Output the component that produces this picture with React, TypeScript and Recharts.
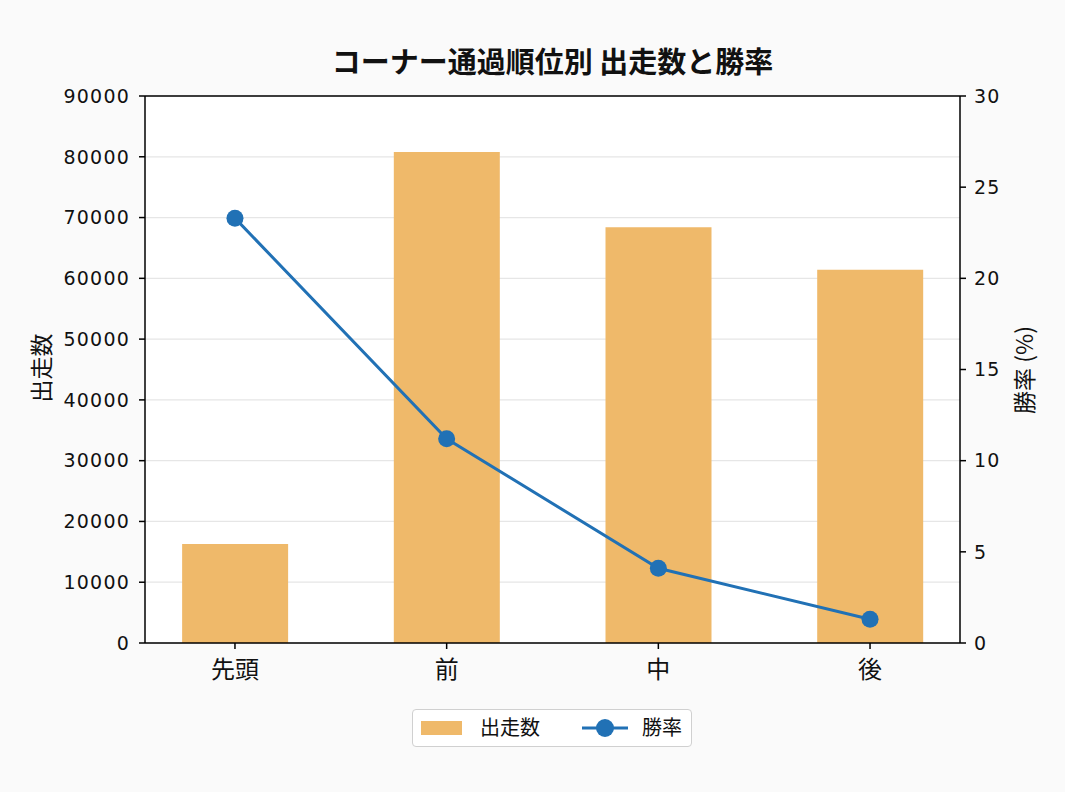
import React from 'react';
import {
  ComposedChart,
  Bar,
  Line,
  XAxis,
  YAxis,
  CartesianGrid,
  ReferenceLine
} from 'recharts';

const categories = ['先頭', '前', '中', '後'];
const runCounts = [16300, 80800, 68400, 61400];
const winRates = [23.3, 11.2, 4.1, 1.3];
const leftTicks = [0, 10000, 20000, 30000, 40000, 50000, 60000, 70000, 80000, 90000];
const rightTicks = [0, 5, 10, 15, 20, 25, 30];

const FONT = '"Noto Sans CJK JP", "Noto Sans", sans-serif';
const NUM_FONT = '"DejaVu Sans", sans-serif';
const barColor = '#efb96a';
const lineColor = '#2171b5';

const data = categories.map((name, i) => ({
  x: i,
  name,
  runs: runCounts[i],
  winRate: winRates[i]
}));

const numTick = { fontSize: 19, fill: '#111', fontFamily: NUM_FONT, letterSpacing: 1.2 };

const App: React.FC = () => {
  return (
    <div
      style={{
        position: 'absolute',
        left: 0,
        top: 0,
        width: 1065,
        height: 792,
        background: '#fafafa',
        fontFamily: FONT
      }}
    >
      <div
        style={{
          position: 'absolute',
          top: 40,
          left: 145,
          width: 815,
          lineHeight: '40px',
          textAlign: 'center',
          fontSize: 29,
          fontWeight: 700,
          color: '#111'
        }}
      >
        コーナー通過順位別 出走数と勝率
      </div>

      <ComposedChart
        width={1065}
        height={792}
        data={data}
        margin={{ top: 96, right: 45, bottom: 109, left: 85 }}
      >
        <CartesianGrid
          yAxisId="left"
          vertical={false}
          stroke="#e6e6e6"
          strokeWidth={1.2}
          fill="#ffffff"
        />
        <XAxis
          dataKey="x"
          type="number"
          domain={[-0.425, 3.425]}
          ticks={[0, 1, 2, 3]}
          tickFormatter={(v: number) => categories[v] ?? ''}
          height={40}
          tickSize={6}
          tick={{ fontSize: 24, fill: '#111', fontFamily: FONT }}
          tickMargin={12}
          axisLine={{ stroke: '#000', strokeWidth: 1.5 }}
          tickLine={{ stroke: '#000', strokeWidth: 1.5 }}
          allowDataOverflow
        />
        <YAxis
          yAxisId="left"
          domain={[0, 90000]}
          ticks={leftTicks}
          width={60}
          tickSize={6}
          tickMargin={9}
          tick={numTick}
          axisLine={{ stroke: '#000', strokeWidth: 1.5 }}
          tickLine={{ stroke: '#000', strokeWidth: 1.5 }}
        />
        <YAxis
          yAxisId="right"
          orientation="right"
          domain={[0, 30]}
          ticks={rightTicks}
          width={60}
          tickSize={6}
          tickMargin={8}
          tick={numTick}
          axisLine={{ stroke: '#000', strokeWidth: 1.5 }}
          tickLine={{ stroke: '#000', strokeWidth: 1.5 }}
        />
        <ReferenceLine yAxisId="left" y={90000} stroke="#000" strokeWidth={1.5} />
        <Bar
          yAxisId="left"
          dataKey="runs"
          fill={barColor}
          barSize={106}
          isAnimationActive={false}
        />
        <Line
          yAxisId="right"
          dataKey="winRate"
          stroke={lineColor}
          strokeWidth={3}
          dot={{ r: 8.5, fill: lineColor, stroke: lineColor, strokeWidth: 0 }}
          activeDot={false}
          isAnimationActive={false}
        />
      </ComposedChart>

      <div
        style={{
          position: 'absolute',
          left: 40,
          top: 368,
          transform: 'translate(-50%, -50%) rotate(-90deg)',
          fontSize: 23,
          color: '#111',
          whiteSpace: 'nowrap'
        }}
      >
        出走数
      </div>
      <div
        style={{
          position: 'absolute',
          left: 1023,
          top: 370,
          transform: 'translate(-50%, -50%) rotate(-90deg)',
          fontSize: 23,
          color: '#111',
          whiteSpace: 'nowrap'
        }}
      >
        勝率 (%)
      </div>

      <div
        style={{
          position: 'absolute',
          left: 412,
          top: 709,
          width: 280,
          height: 38,
          boxSizing: 'border-box',
          border: '1.5px solid #d0d0d0',
          borderRadius: 4,
          background: '#fff',
          fontSize: 20,
          color: '#111'
        }}
      >
        <div
          style={{
            position: 'absolute',
            left: 8,
            top: 11,
            width: 41,
            height: 14,
            background: barColor
          }}
        />
        <span style={{ position: 'absolute', left: 67, top: 3, lineHeight: '28px' }}>出走数</span>
        <svg width={46} height={22} style={{ position: 'absolute', left: 169, top: 7 }}>
          <line x1={0} y1={11} x2={46} y2={11} stroke={lineColor} strokeWidth={3} />
          <circle cx={23} cy={11} r={9} fill={lineColor} />
        </svg>
        <span style={{ position: 'absolute', left: 229, top: 3, lineHeight: '28px' }}>勝率</span>
      </div>
    </div>
  );
};

export default App;
